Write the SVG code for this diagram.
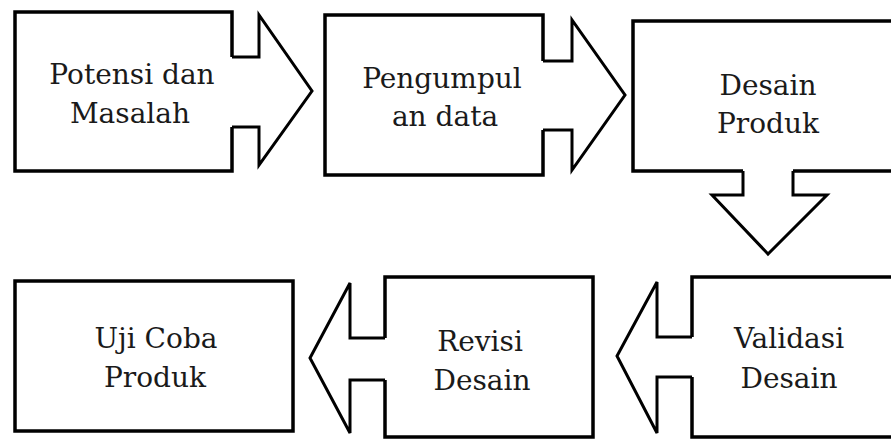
<svg xmlns="http://www.w3.org/2000/svg" width="891" height="439" viewBox="0 0 891 439">
  <style>
    .box { fill: none; stroke: #000; stroke-width: 3.5; stroke-linejoin: miter; }
    .arrow { fill: none; stroke: #000; stroke-width: 3; stroke-linejoin: miter; }
    .label { font-family: "DejaVu Serif", "Liberation Serif", serif; font-size: 28px; fill: #1a1a1a; text-anchor: middle; }
  </style>
  <rect width="891" height="439" fill="#fff"/>

  <g id="potensi-masalah">
    <path class="box" d="M232,57 V12 H15 V171 H232 V127"/>
    <text class="label" x="132" y="84">Potensi dan</text>
    <text class="label" x="130" y="123">Masalah</text>
  </g>

  <g id="pengumpulan-data">
    <path class="box" d="M543,61 V15 H325 V175 H543 V130"/>
    <text class="label" x="442" y="88">Pengumpul</text>
    <text class="label" x="445" y="126">an data</text>
  </g>

  <g id="desain-produk">
    <path class="box" d="M743,171 H633 V21 H895 M895,171 H793"/>
    <text class="label" x="768" y="95">Desain</text>
    <text class="label" x="768" y="133">Produk</text>
  </g>

  <g id="validasi-desain">
    <path class="box" d="M692,337 V277 H895 M895,437 H692 V377"/>
    <text class="label" x="789" y="348">Validasi</text>
    <text class="label" x="789" y="388">Desain</text>
  </g>

  <g id="revisi-desain">
    <path class="box" d="M385,338 V277 H593 V437 H385 V380"/>
    <text class="label" x="480" y="351">Revisi</text>
    <text class="label" x="482" y="390">Desain</text>
  </g>

  <g id="uji-coba-produk">
    <rect class="box" x="15" y="281" width="278" height="150"/>
    <text class="label" x="156" y="348">Uji Coba</text>
    <text class="label" x="155" y="387">Produk</text>
  </g>

  <g id="connectors">
    <path class="arrow" d="M232,57 H259 V15 L312,91 L259,165 V127 H232"/>
    <path class="arrow" d="M543,61 H572 V20 L625,95 L572,170 V130 H543"/>
    <path class="arrow" d="M743,171 V195 H712 L768,254 L827,195 H793 V171"/>
    <path class="arrow" d="M692,337 H657 V282 L617,356 L657,433 V377 H692"/>
    <path class="arrow" d="M385,338 H350 V283 L310,358 L350,433 V380 H385"/>
  </g>
</svg>
